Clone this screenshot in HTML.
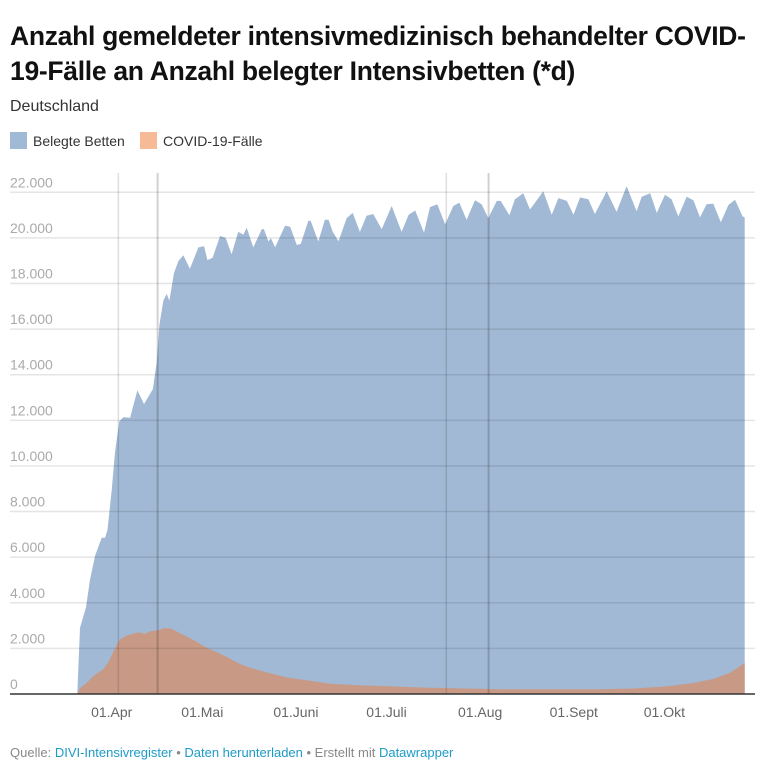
<!DOCTYPE html>
<html><head><meta charset="utf-8">
<style>
body{margin:0;background:#fff;font-family:"Liberation Sans",sans-serif;width:764px;height:766px;overflow:hidden;position:relative}
.t{position:absolute;left:10px;top:19px;font-weight:bold;font-size:26.5px;line-height:35px;color:#111;letter-spacing:-0.3px;width:760px;white-space:nowrap}
.st{position:absolute;left:10px;top:98px;font-size:16px;color:#333}
.lg{position:absolute;top:132px;font-size:14px;color:#333;display:flex;align-items:center}
.sw{width:17px;height:17px;display:inline-block;margin-right:6px}
.ft{position:absolute;left:10px;top:745px;font-size:13px;color:#888}
.ft a{color:#1d9bc8;text-decoration:none}
svg{position:absolute;left:0;top:0}
</style></head><body>
<div class="t">Anzahl gemeldeter intensivmedizinisch behandelter COVID-<br>19-Fälle an Anzahl belegter Intensivbetten (*d)</div>
<div class="st">Deutschland</div>
<div class="lg" style="left:10px"><span class="sw" style="background:#a0b9d4"></span>Belegte Betten</div>
<div class="lg" style="left:140px"><span class="sw" style="background:#f6ba96"></span>COVID-19-Fälle</div>
<svg id="chart" width="764" height="766"></svg>
<div class="ft">Quelle: <a>DIVI-Intensivregister</a> • <a>Daten herunterladen</a> • Erstellt mit <a>Datawrapper</a></div>
<script>
// day offsets relative to 01.Apr
const bedDays=[-11.4,-10.5,-8.5,-7.2,-5.5,-3.3,-2.2,-1.4,0,1.1,2.5,3.9,6.1,8.5,10.7,13.6,14.9,15.8,17.1,18.2,19.1,20.6,22.1,23.7,25.9,28.7,30.6,31.7,33.4,35.9,37.7,39.7,41.9,43.6,44.7,46.9,49.7,50.4,51.9,52.7,54.1,57.4,59.1,61.3,62.6,65.1,65.9,68.4,70.6,71.8,73.2,75.1,77.8,79.8,82.2,84.4,86.6,89.4,92.7,96.0,98.3,100.5,103.4,105.4,107.8,110.4,113.1,115.1,117.5,120.3,122.5,124.7,127.5,128.8,131.7,133.5,136.3,138.5,142.9,145.7,147.9,150.7,152.9,155.1,157.8,160.0,163.9,167.2,170.5,173.8,175.5,178.3,180.5,183.2,185.4,187.6,190.4,192.6,194.8,197.0,199.2,201.7,204.2,206.4,208.9,209.6];
const bedValues=[0,2900,3805,5013,6070,6855,6855,7203,8939,10600,11959,12140,12110,13318,12714,13364,14526,16187,17244,17546,17244,18452,18981,19237,18648,19585,19630,19026,19132,20083,20008,19283,20264,20143,20445,19585,20385,20385,19841,19992,19585,20536,20491,19690,19736,20747,20747,19841,20793,20793,20264,19857,20868,21095,20264,20974,21049,20385,21397,20264,21019,21200,20234,21351,21472,20596,21397,21548,20793,21653,21472,20868,21623,21623,20989,21699,21955,21246,22046,21019,21744,21623,21019,21774,21699,21049,22046,21140,22272,21170,21804,21955,21095,21895,21699,20944,21804,21653,20898,21472,21502,20687,21442,21669,20944,20900];
const covidDays=[-11.4,-10.5,-8.3,-6.1,-2.8,-1.1,0.5,2.5,5.0,8.8,11.0,12.7,14.9,17.7,19.9,22.1,24.8,28.1,31.5,34.8,38.6,42.5,46.4,52.4,58.0,64.6,72.3,82.2,93.3,102.1,128.6,161.7,172.7,183.8,192.6,199.2,204.8,209.6];
const covidValues=[0,257,483,785,1087,1389,1842,2371,2567,2703,2643,2748,2778,2899,2854,2703,2522,2295,2023,1842,1586,1314,1133,906,725,604,453,378,332,287,211,211,242,332,483,664,936,1359];
const yTicks=[0,2000,4000,6000,8000,10000,12000,14000,16000,18000,20000,22000];
const xTickDays=[0,30,61,91,122,153,183];
const xTickLabels=["01.Apr","01.Mai","01.Juni","01.Juli","01.Aug","01.Sept","01.Okt"];
const markerDays=[2.2,15.2,110.8,124.8];

const NS="http://www.w3.org/2000/svg";
const svg=document.getElementById('chart');
const y0=694, yPer=45.61/2000;
const ys=v=>y0-v*yPer;
const xs=d=>111.7+d*3.02;
function mk(tag,attrs,parent){const e=document.createElementNS(NS,tag);for(const k in attrs)e.setAttribute(k,attrs[k]);(parent||svg).appendChild(e);return e;}
function area(days,vals,fill,name){
  let d='M'+xs(days[0])+','+y0;
  for(let i=0;i<days.length;i++)d+='L'+xs(days[i]).toFixed(1)+','+ys(vals[i]).toFixed(1);
  d+='L'+xs(days[days.length-1])+','+y0+'Z';
  const p=mk('path',{d:d,fill:fill,'stroke-linejoin':'round'});
  
  
}
area(bedDays,bedValues,'#a1b9d4','area-belegte-betten');
area(covidDays,covidValues,'#c89a86','area-covid-faelle');
yTicks.forEach(v=>{
  if(v>0){const l=mk('line',{x1:10,x2:755,y1:ys(v),y2:ys(v),stroke:'rgba(0,0,0,0.1)','stroke-width':1.5});
  
  }
  const t=mk('text',{x:10,y:ys(v)-5,'font-size':14,fill:'#aaa','font-family':'Liberation Sans, sans-serif'});
  t.textContent=v.toLocaleString('de-DE');
  
  
});
markerDays.forEach((d,i)=>{
  const l=mk('line',{x1:xs(d),x2:xs(d),y1:173,y2:y0,stroke:i%2?'rgba(0,0,0,0.18)':'rgba(0,0,0,0.13)','stroke-width':i%2?2:1.5});
  
  
});
const ax=mk('line',{x1:10,x2:755,y1:y0,y2:y0,stroke:'#333','stroke-width':1.5});


xTickDays.forEach((d,i)=>{
  const t=mk('text',{x:xs(d),y:717,'font-size':14,fill:'#666','text-anchor':'middle','font-family':'Liberation Sans, sans-serif'});
  t.textContent=xTickLabels[i];
  
  
});
</script>
</body></html>
